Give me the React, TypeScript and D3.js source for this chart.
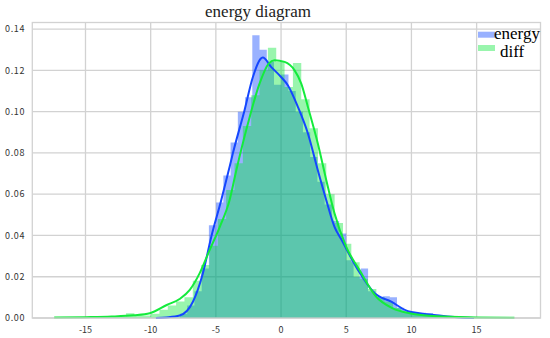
import React from "react";
import * as d3 from "d3";

// ---- data ----
const xTicks = [-15, -10, -5, 0, 5, 10, 15];
const yTicks = [0, 0.02, 0.04, 0.06, 0.08, 0.1, 0.12, 0.14];

const energyBinStart = -7.755;
const energyBinWidth = 0.555;
const energyDensity = [
  0.002, 0.006, 0.013, 0.024, 0.045, 0.056, 0.069, 0.085, 0.1, 0.107,
  0.137, 0.13, 0.124, 0.113, 0.118, 0.11, 0.1, 0.09, 0.078, 0.066,
  0.055, 0.047, 0.041, 0.028, 0.02, 0.024, 0.013, 0.01, 0.0105, 0.01,
  0.005, 0.003, 0.0026, 0.0026, 0.0024, 0.0015, 0.001,
];

const diffBinStart = -15.09;
const diffBinWidth = 0.64;
const diffDensity = [
  0.0003, 0.0003, 0.0005, 0.0005, 0.0008, 0.0023, 0.0012, 0.0012, 0.002, 0.004,
  0.006, 0.008, 0.01, 0.018, 0.0257, 0.035, 0.048, 0.062, 0.075, 0.093,
  0.108, 0.12, 0.131, 0.124, 0.112, 0.1236, 0.106, 0.092, 0.075, 0.06,
  0.046, 0.036, 0.027, 0.019, 0.014, 0.01, 0.008, 0.005, 0.003, 0.002,
  0.0015, 0.0012, 0.0008, 0.0006, 0.0005, 0.0004, 0.0003, 0.0003,
];

const energyKdeX = [-9.6, -8.8, -7.78, -6.76, -6.0, -5.35, -4.59, -3.95, -3.7, -2.8, -2.16, -1.4, -0.75, 0.0, 0.52, 1.29, 2.06, 2.82, 3.47, 4.1, 4.63, 5.9, 7.18, 8.45, 9.73, 10.6, 12.3, 13.5, 14.8];
const energyKdeY = [0.0, 0.0003, 0.0012, 0.0079, 0.0216, 0.0394, 0.0571, 0.0732, 0.0797, 0.1007, 0.1168, 0.1262, 0.1216, 0.1168, 0.1128, 0.1023, 0.0894, 0.0716, 0.0571, 0.0442, 0.038, 0.0233, 0.012, 0.0079, 0.0033, 0.0023, 0.0011, 0.0004, 0.0];

const diffKdeX = [-17.4, -15, -13, -11.3, -10.07, -8.77, -7.78, -7.0, -6.25, -5.48, -4.7, -3.95, -3.43, -2.54, -1.65, -0.95, -0.5, 0.27, 1.04, 1.55, 2.06, 2.82, 3.47, 4.1, 5.0, 6.02, 7.3, 8.57, 9.85, 12, 15, 17.9];
const diffKdeY = [0.0002, 0.0004, 0.0007, 0.0013, 0.0023, 0.0063, 0.0092, 0.0136, 0.0216, 0.0329, 0.0442, 0.0571, 0.0716, 0.0942, 0.1136, 0.1233, 0.1249, 0.1241, 0.12, 0.1136, 0.1023, 0.0846, 0.0668, 0.0507, 0.0345, 0.0232, 0.0103, 0.0047, 0.0023, 0.0008, 0.0003, 0.0001];

const seriesNames = ["energy", "diff"];
const title = "energy diagram";

// ---- layout ----
const W = 550;
const H = 338;
const plot = { left: 32.3, right: 540.5, top: 22.5, bottom: 318 };

export default function App() {
  const x = d3.scaleLinear().domain([-19.08, 19.9]).range([plot.left, plot.right]);
  const y = d3.scaleLinear().domain([0, 0.1432]).range([plot.bottom, plot.top]);

  const line = d3
    .line<[number, number]>()
    .x((d) => x(d[0]))
    .y((d) => y(d[1]))
    .curve(d3.curveMonotoneX);

  const energyPts = energyKdeX.map((v, i) => [v, energyKdeY[i]] as [number, number]);
  const diffPts = diffKdeX.map((v, i) => [v, diffKdeY[i]] as [number, number]);

  const grid = "#d2d2d2";
  const tickFont = "'Noto Sans CJK SC', 'DejaVu Sans', sans-serif";
  const serif = "'Liberation Serif', 'Times New Roman', serif";

  // Bars drawn as one path per series to avoid anti-aliasing seams between adjacent bins
  const barsPath = (start: number, w: number, vals: number[]) => {
    const p = d3.path();
    vals.forEach((v, i) => {
      const x0 = x(start + i * w);
      const x1 = x(start + (i + 1) * w);
      p.rect(x0, y(v), x1 - x0, y(0) - y(v));
    });
    return p.toString();
  };

  return (
    <svg width={W} height={H} style={{ position: "absolute", left: 0, top: 0, background: "#fff" }}>
      <rect x={0} y={0} width={W} height={H} fill="#fff" />
      {/* grid */}
      {yTicks.map((t) => (
        <line key={"gy" + t} x1={plot.left} x2={plot.right} y1={y(t)} y2={y(t)} stroke={grid} strokeWidth={1.3} />
      ))}
      {xTicks.map((t) => (
        <line key={"gx" + t} x1={x(t)} x2={x(t)} y1={plot.top} y2={plot.bottom} stroke={grid} strokeWidth={1.3} />
      ))}
      {/* histograms */}
      <path d={barsPath(energyBinStart, energyBinWidth, energyDensity)} fill="rgb(0,60,255)" fillOpacity={0.4} fillRule="nonzero" />
      <path d={barsPath(diffBinStart, diffBinWidth, diffDensity)} fill="rgb(0,230,50)" fillOpacity={0.4} fillRule="nonzero" />
      {/* kde lines */}
      <path d={line(energyPts) || ""} fill="none" stroke="rgb(20,70,255)" strokeWidth={2} />
      <path d={line(diffPts) || ""} fill="none" stroke="rgb(20,235,60)" strokeWidth={2} />
      {/* frame */}
      <rect x={plot.left} y={plot.top} width={plot.right - plot.left} height={plot.bottom - plot.top} fill="none" stroke={grid} strokeWidth={1.3} />
      {/* tick labels */}
      {yTicks.map((t) => (
        <text key={"ly" + t} x={25} y={y(t) + 3.2} textAnchor="end" fontSize={9} fontFamily={tickFont} fill="#333" letterSpacing={0.6}>
          {d3.format(".2f")(t)}
        </text>
      ))}
      {xTicks.map((t) => (
        <text key={"lx" + t} x={x(t)} y={332.5} textAnchor="middle" fontSize={9} fontFamily={tickFont} fill="#333">
          {t < 0 ? "-" + Math.abs(t) : String(t)}
        </text>
      ))}
      {/* title */}
      <text x={258} y={16.5} textAnchor="middle" fontSize={17} fontFamily={serif} fill="#222">
        {title}
      </text>
      {/* legend */}
      <rect x={478} y={31.7} width={17} height={6} fill="rgb(0,60,255)" fillOpacity={0.4} />
      <text x={494} y={38.5} fontSize={17} fontFamily={serif} fill="#000">
        {seriesNames[0]}
      </text>
      <rect x={478} y={45} width={17} height={6} fill="rgb(0,230,50)" fillOpacity={0.4} />
      <text x={500} y={57} fontSize={17} fontFamily={serif} fill="#000">
        {seriesNames[1]}
      </text>
    </svg>
  );
}
